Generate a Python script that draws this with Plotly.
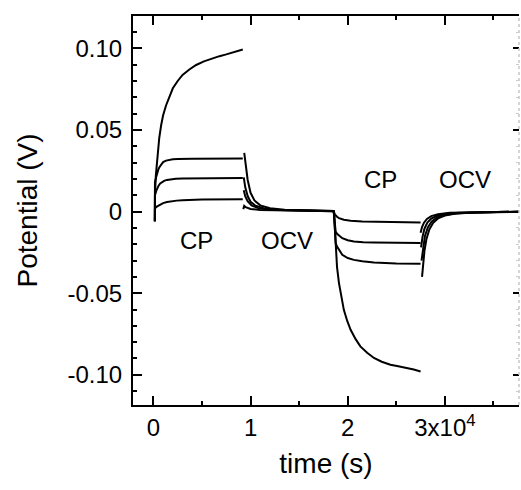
import plotly.graph_objects as go

# ---- data (time in s, potential in V) ----
# Series 1 (largest current)
s1_cp1_t = [150, 160, 250, 350, 450, 600, 800, 1000, 1300, 1650, 2000, 2500, 3000, 3700,
            4400, 5200, 6100, 6800, 7500, 8300, 9200]
s1_cp1_v = [-0.006, 0.010, 0.022, 0.030, 0.036, 0.045, 0.053, 0.059, 0.065, 0.0707, 0.0755,
            0.0800, 0.0837, 0.0870, 0.0898, 0.0920, 0.0939, 0.0952, 0.0963, 0.0977, 0.0993]
s1_ocv1_t = [9350, 9500, 9700, 10000, 10400, 11000, 12000, 13500, 16000, 18550,
             18600, 18680, 18760, 18900, 19100, 19350, 19600, 19950, 20300, 20800, 21300,
             22000, 22700, 23500, 24400, 25200, 26100, 26800, 27500]
s1_ocv1_v = [0.036, 0.027, 0.0195, 0.0115, 0.0068, 0.0038, 0.0020, 0.0011, 0.0006, 0.0003,
             -0.002, -0.012, -0.0234, -0.034, -0.0438, -0.053, -0.0602, -0.067, -0.0724,
             -0.078, -0.0826, -0.0865, -0.0897, -0.092, -0.0938, -0.0948, -0.0958, -0.0968, -0.098]
s1_ocv2_t = [27650, 27750, 27900, 28100, 28400, 28800, 29300, 30000, 31000, 32500, 34500, 37600]
s1_ocv2_v = [-0.040, -0.032, -0.024, -0.017, -0.011, -0.0068, -0.0042, -0.0025, -0.0014,
             -0.0007, -0.0003, -0.0001]

# Series 2
s2_cp1_t = [150, 160, 300, 400, 520, 650, 800, 1000, 1300, 1600, 2000, 2500, 4000, 9200]
s2_cp1_v = [-0.006, 0.018, 0.0215, 0.024, 0.026, 0.0275, 0.029, 0.0303, 0.0312, 0.0317,
            0.0320, 0.0322, 0.0324, 0.0325]
s2_ocv1_t = [9300, 9450, 9700, 10000, 10500, 11500, 13000, 18550,
             18600, 18760, 18900, 19100, 19440, 20000, 20640, 21500, 22700, 25000, 27500]
s2_ocv1_v = [0.021, 0.015, 0.0095, 0.006, 0.0036, 0.0018, 0.001, 0.0003,
             -0.002, -0.0193, -0.0215, -0.0235, -0.0265, -0.0285, -0.0296, -0.0305,
             -0.0312, -0.0318, -0.032]
s2_ocv2_t = [27600, 27750, 27950, 28250, 28650, 29200, 30000, 31200, 33000, 37600]
s2_ocv2_v = [-0.030, -0.022, -0.015, -0.0097, -0.006, -0.0036, -0.0021, -0.0011, -0.0005, -0.0001]

# Series 3
s3_cp1_t = [150, 160, 300, 400, 550, 700, 900, 1100, 1400, 1800, 2300, 3000, 5000, 9200]
s3_cp1_v = [-0.006, 0.010, 0.0128, 0.0145, 0.016, 0.0172, 0.0181, 0.0188, 0.0194, 0.0198,
            0.0201, 0.0203, 0.0205, 0.0205]
s3_ocv1_t = [9300, 9450, 9700, 10100, 10800, 12000, 18550,
             18600, 18760, 18900, 19100, 19440, 20000, 20640, 21600, 22700, 27500]
s3_ocv1_v = [0.013, 0.0095, 0.0063, 0.0037, 0.0021, 0.0011, 0.0002,
             -0.002, -0.0122, -0.0136, -0.0148, -0.0163, -0.0176, -0.0184, -0.0188,
             -0.019, -0.0193]
s3_ocv2_t = [27550, 27700, 27900, 28200, 28600, 29200, 30000, 31500, 37600]
s3_ocv2_v = [-0.022, -0.0155, -0.0105, -0.0068, -0.0043, -0.0026, -0.0015, -0.0007, -0.0001]

# Series 4 (smallest current)
s4_cp1_t = [150, 160, 350, 500, 750, 1000, 1400, 1800, 2400, 3000, 5000, 9200]
s4_cp1_v = [-0.006, 0.002, 0.003, 0.0035, 0.0045, 0.0052, 0.0058, 0.0063, 0.0067, 0.0070,
            0.0074, 0.0076]
s4_ocv1_t = [9250, 9350, 9500, 10000, 11000, 18550,
             18600, 18700, 18900, 19100, 19600, 20300, 21500, 22700, 27500]
s4_ocv1_v = [0.0015, 0.0035, 0.0027, 0.0016, 0.0009, 0.0002,
             -0.0005, -0.0020, -0.0032, -0.0040, -0.0050, -0.0056, -0.0061, -0.0063, -0.0067]
s4_ocv2_t = [27500, 27650, 27850, 28150, 28600, 29300, 30500, 37600]
s4_ocv2_v = [-0.013, -0.0095, -0.0068, -0.0045, -0.0028, -0.0016, -0.0008, -0.0001]

x_tickvals = [0, 10000, 20000, 30000]
x_ticktext = ["0", "1", "2", "3x10<sup>4</sup>"]
x_minor = [5000, 15000, 25000, 35000]
y_tickvals = [-0.10, -0.05, 0, 0.05, 0.10]
y_ticktext = ["-0.10", "-0.05", "0", "0.05", "0.10"]
y_minor = [-0.11, -0.09, -0.08, -0.07, -0.06, -0.04, -0.03, -0.02, -0.01,
           0.01, 0.02, 0.03, 0.04, 0.06, 0.07, 0.08, 0.09, 0.11]

labels_text = ["CP", "OCV", "CP", "OCV"]
labels_x = [4400, 13800, 23400, 32100]
labels_y = [-0.0175, -0.0175, 0.0195, 0.0195]

FONT = "Liberation Sans, Arial, sans-serif"

series = [
    (s1_cp1_t, s1_cp1_v, s1_ocv1_t, s1_ocv1_v, s1_ocv2_t, s1_ocv2_v),
    (s2_cp1_t, s2_cp1_v, s2_ocv1_t, s2_ocv1_v, s2_ocv2_t, s2_ocv2_v),
    (s3_cp1_t, s3_cp1_v, s3_ocv1_t, s3_ocv1_v, s3_ocv2_t, s3_ocv2_v),
    (s4_cp1_t, s4_cp1_v, s4_ocv1_t, s4_ocv1_v, s4_ocv2_t, s4_ocv2_v),
]

fig = go.Figure()
for a_t, a_v, b_t, b_v, c_t, c_v in series:
    xs = list(a_t) + [None] + list(b_t) + [None] + list(c_t)
    ys = list(a_v) + [None] + list(b_v) + [None] + list(c_v)
    fig.add_trace(go.Scatter(x=xs, y=ys, mode="lines", connectgaps=False,
                             line=dict(color="black", width=2),
                             showlegend=False, hoverinfo="skip"))

# invisible trace to anchor the right-hand axis
fig.add_trace(go.Scatter(x=[0], y=[0], yaxis="y2", mode="markers",
                         marker=dict(opacity=0), showlegend=False, hoverinfo="skip"))

for txt, lx, ly in zip(labels_text, labels_x, labels_y):
    fig.add_annotation(x=lx, y=ly, text=txt, showarrow=False,
                       font=dict(family=FONT, size=24, color="black"))

fig.add_shape(type="line", xref="paper", yref="paper", x0=1, x1=1, y0=0, y1=1,
              line=dict(color="#c8c8c8", width=1.5, dash="dot"))

yrange = [-0.1185, 0.1198]

fig.update_layout(
    width=521, height=490,
    margin=dict(l=133, r=2, t=16, b=85),
    paper_bgcolor="white", plot_bgcolor="white",
    font=dict(family=FONT, size=24, color="black"),
    xaxis=dict(
        range=[-2100, 37630],
        tickmode="array", tickvals=x_tickvals, ticktext=x_ticktext,
        ticks="inside", ticklen=9, tickwidth=2, tickcolor="black",
        ticklabelstandoff=0,
        minor=dict(tickmode="array", tickvals=x_minor, ticks="inside", ticklen=4,
                   tickwidth=2, tickcolor="black", showgrid=False),
        showline=True, linewidth=2, linecolor="black", mirror="ticks",
        showgrid=False, zeroline=False,
        tickfont=dict(size=24),
        title=dict(text="time (s)", font=dict(size=28), standoff=14),
    ),
    yaxis=dict(
        range=yrange,
        tickmode="array", tickvals=y_tickvals, ticktext=y_ticktext,
        ticks="inside", ticklen=9, tickwidth=2, tickcolor="black",
        ticklabelstandoff=4,
        minor=dict(tickmode="array", tickvals=y_minor, ticks="inside", ticklen=4,
                   tickwidth=2, tickcolor="black", showgrid=False),
        showline=True, linewidth=2, linecolor="black",
        showgrid=False, zeroline=False,
        tickfont=dict(size=24),
        title=dict(text="Potential (V)", font=dict(size=28), standoff=22),
    ),
    yaxis2=dict(
        range=yrange, overlaying="y", side="right",
        tickmode="array", tickvals=y_tickvals, showticklabels=False,
        ticks="inside", ticklen=6, tickwidth=2, tickcolor="black",
        minor=dict(tickmode="array", tickvals=y_minor, ticks="inside", ticklen=3,
                   tickwidth=1, tickcolor="#cccccc"),
        showline=False, showgrid=False, zeroline=False,
    ),
)

fig.write_html("out.html")
